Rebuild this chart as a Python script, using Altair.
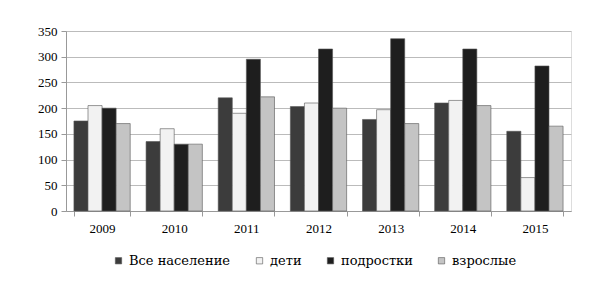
import altair as alt
import pandas as pd

years = ["2009", "2010", "2011", "2012", "2013", "2014", "2015"]
series = ["Все население", "дети", "подростки", "взрослые"]
vals_all = [175, 135, 220, 203, 178, 210, 155]
vals_kids = [205, 160, 190, 210, 197, 215, 65]
vals_teens = [200, 130, 295, 315, 335, 315, 282]
vals_adults = [170, 130, 222, 200, 170, 205, 165]

rows = []
for s, vals in zip(series, [vals_all, vals_kids, vals_teens, vals_adults]):
    for y, v in zip(years, vals):
        rows.append({"year": y, "series": s, "value": v})
df = pd.DataFrame(rows)

colors = ["#3c3c3c", "#f2f2f2", "#1e1e1e", "#c4c4c4"]
font = "Liberation Serif"
lfont = "DejaVu Serif"

chart = alt.Chart(df).mark_bar(stroke="#555", strokeWidth=0.6).encode(
    x=alt.X("year:N", title=None, sort=years,
            scale=alt.Scale(paddingInner=0.22, paddingOuter=0.11),
            axis=alt.Axis(labelAngle=0, labelFont=font, labelFontSize=13, labelColor="#000",
                          domainColor="#999", tickColor="#999", tickBand="extent", labelPadding=6)),
    xOffset=alt.XOffset("series:N", sort=series),
    y=alt.Y("value:Q", title=None, scale=alt.Scale(domain=[0, 350]),
            axis=alt.Axis(values=list(range(0, 351, 50)), labelFont=font, labelFontSize=13,
                          labelColor="#000", domainColor="#999", tickColor="#999",
                          gridColor="#bbb", labelPadding=4)),
    fill=alt.Fill("series:N", sort=series, scale=alt.Scale(domain=series, range=colors),
                  legend=alt.Legend(title=None, orient="none", legendX=46, legendY=223,
                                    direction="horizontal",
                                    symbolType="square", symbolSize=40, labelFont=lfont,
                                    labelFontSize=13, labelColor="#000", columnPadding=22,
                                    symbolStrokeColor="#555", symbolStrokeWidth=0.6)),
).properties(width=505, height=180, padding={"left": 66, "top": 31, "right": 41, "bottom": 76}).configure_view(
    stroke="#bbb"
).configure(autosize=alt.AutoSizeParams(type="none"))

chart.save("out.html", embed_options={"renderer": "svg", "actions": False})
